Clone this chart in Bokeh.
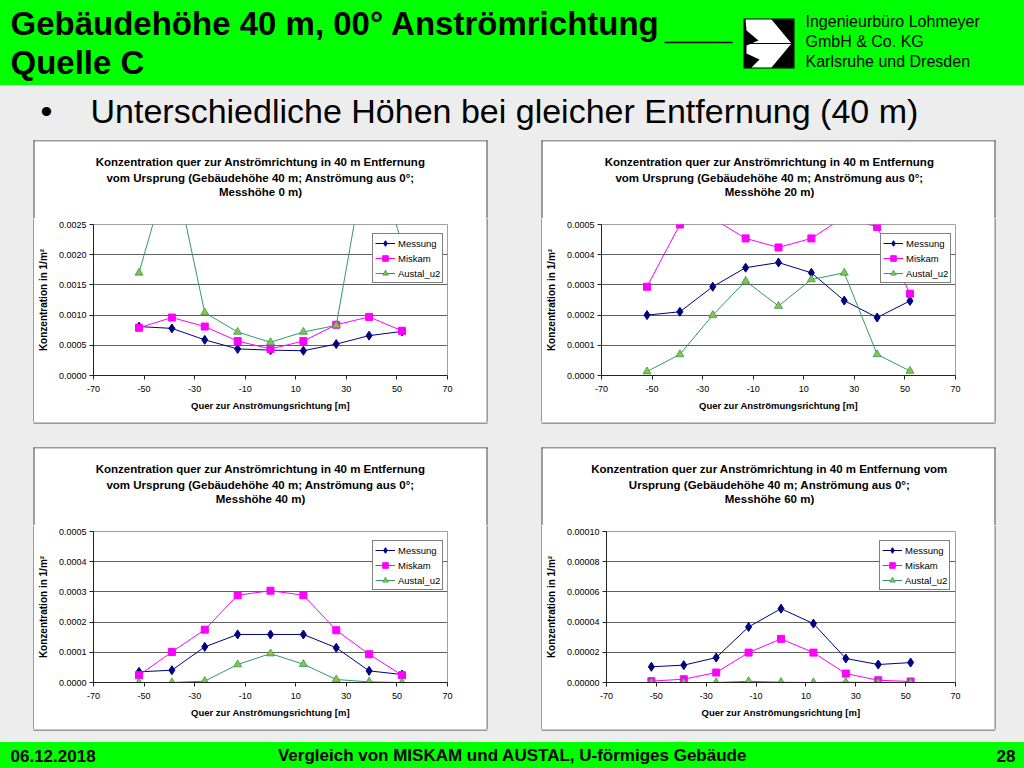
from bokeh.plotting import figure
from bokeh.layouts import row, column
from bokeh.models import Range1d, FixedTicker, NumeralTickFormatter
from bokeh.core.properties import value
from bokeh.embed import file_html
from bokeh.resources import INLINE

FONT = "Liberation Sans"
GREEN = "#00FF00"
BG = "#EDEDED"
FRAME = "#4A4A4A"

# ---------------- data ----------------
x_pos = [-52, -39, -26, -13, 0, 13, 26, 39, 52]
x_ticks = [-70, -50, -30, -10, 10, 30, 50, 70]
series_names = ["Messung", "Miskam", "Austal_u2"]

messung_0 = [0.00081, 0.00078, 0.00059, 0.00044, 0.00042, 0.00041, 0.00052, 0.00066, 0.00073]
miskam_0 = [0.00079, 0.00096, 0.00081, 0.00057, 0.00044, 0.00057, 0.00084, 0.00097, 0.00074]
austal_0 = [0.0017, 0.0036, 0.00104, 0.00072, 0.00055, 0.00072, 0.00083, 0.0039, 0.0022]

messung_20 = [0.000200, 0.000211, 0.000294, 0.000357, 0.000374, 0.000340, 0.000248, 0.000192, 0.000247]
miskam_20 = [0.000294, 0.000500, 0.000520, 0.000454, 0.000424, 0.000454, 0.000525, 0.000492, 0.000271]
austal_20 = [0.000013, 0.000070, 0.000200, 0.000313, 0.000230, 0.000318, 0.000340, 0.000070, 0.000015]

messung_40 = [0.0000352, 0.0000407, 0.000118, 0.000159, 0.000159, 0.000159, 0.000115, 0.0000385, 0.0000264]
miskam_40 = [0.0000242, 0.000101, 0.000175, 0.000289, 0.000304, 0.000289, 0.000173, 0.0000936, 0.0000242]
austal_40 = [0.0, 0.0, 0.0000044, 0.0000595, 0.0000958, 0.0000606, 0.0000099, 0.0000022, 0.0]

messung_60 = [0.0000104, 0.0000115, 0.0000165, 0.0000368, 0.0000489, 0.0000390, 0.0000159, 0.0000119, 0.0000132]
miskam_60 = [0.0000009, 0.0000022, 0.0000066, 0.0000198, 0.0000289, 0.0000198, 0.0000059, 0.0000015, 0.0000007]
austal_60 = [0.0, 0.0, 0.0, 0.0000008, 0.0000002, 0.0, 0.0000002, 0.0, 0.0]

y_ticks_0 = [0.0, 0.0005, 0.0010, 0.0015, 0.0020, 0.0025]
y_ticks_20 = [0.0, 0.0001, 0.0002, 0.0003, 0.0004, 0.0005]
y_ticks_40 = [0.0, 0.0001, 0.0002, 0.0003, 0.0004, 0.0005]
y_ticks_60 = [0.0, 0.00002, 0.00004, 0.00006, 0.00008, 0.00010]

title_head = "Konzentration quer zur Anströmrichtung in 40 m Entfernung"
titles = [
    [title_head, "vom Ursprung (Gebäudehöhe 40 m; Anströmung aus 0°;", "Messhöhe 0 m)"],
    [title_head, "vom Ursprung (Gebäudehöhe 40 m; Anströmung aus 0°;", "Messhöhe 20 m)"],
    [title_head, "vom Ursprung (Gebäudehöhe 40 m; Anströmung aus 0°;", "Messhöhe 40 m)"],
    [title_head + " vom", "Ursprung (Gebäudehöhe 40 m; Anströmung aus 0°;", "Messhöhe 60 m)"],
]
x_label = "Quer zur Anströmungsrichtung [m]"
y_label = "Konzentration in 1/m²"

slide_title = ["Gebäudehöhe 40 m, 00° Anströmrichtung", "Quelle C"]
company = ["Ingenieurbüro Lohmeyer", "GmbH & Co. KG", "Karlsruhe und Dresden"]
bullet_text = "Unterschiedliche Höhen bei gleicher Entfernung (40 m)"
footer_date = "06.12.2018"
footer_text = "Vergleich von MISKAM und AUSTAL, U-förmiges Gebäude"
footer_page = "28"

# chart boxes (left, right) in page pixels
BOX_X = [(33, 487), (541, 995)]
TITLE_CX = [260, 769]


# ---------------- helpers ----------------
def blank(w, h, color):
    f = figure(width=w, height=h, output_backend="svg", toolbar_location=None,
               x_range=Range1d(0, w), y_range=Range1d(h, 0), frame_align=False,
               min_border=0, x_axis_type=None, y_axis_type=None,
               styles={"background-color": color})
    f.outline_line_color = None
    f.background_fill_color = color
    f.border_fill_color = color
    f.grid.visible = False
    return f


def hborders(f, y0, y1):
    f.quad(left=[b[0] for b in BOX_X], right=[b[1] for b in BOX_X],
           top=[y0, y0], bottom=[y1, y1], fill_color=FRAME, line_color=None)


def vborder(f, x0, y0, y1):
    f.quad(left=[x0], right=[x0 + 1], top=[y0], bottom=[y1], fill_color=FRAME, line_color=None)


def title_band(f, top, h, pair):
    """white upper part of the two chart boxes of one row, with their titles"""
    hborders(f, top, top + 1)
    f.quad(left=[b[0] + 1 for b in BOX_X], right=[b[1] - 1 for b in BOX_X],
           top=[top + 1, top + 1], bottom=[h, h], fill_color="white", line_color=None)
    for b in BOX_X:
        vborder(f, b[0], top, h)
        vborder(f, b[1] - 1, top, h)
    for cx, lines in zip(TITLE_CX, pair):
        f.text(x=[cx] * 3, y=[top + 21.5, top + 37, top + 51.5], text=lines,
               text_font=value(FONT), text_font_style="bold", text_font_size="11.5px",
               text_color="black", text_align="center", text_baseline="middle")


def chart(mess, misk, aust, ymax, yticks, fmt, left_border):
    W, H = 452, 204
    top_b, right_b, bot_b = 6, 39, 47
    fw = W - left_border - right_b
    fh = H - top_b - bot_b

    p = figure(width=W, height=H, output_backend="svg", toolbar_location=None,
               x_range=Range1d(-70, 70), y_range=Range1d(0, ymax), frame_align=False,
               min_border_left=left_border, min_border_right=right_b,
               min_border_top=top_b, min_border_bottom=bot_b,
               styles={"background-color": "white"})
    p.background_fill_color = "white"
    p.border_fill_color = "white"
    p.outline_line_color = "#A0A0A0"
    p.xgrid.visible = False
    p.ygrid.grid_line_color = "#606060"
    p.ygrid.grid_line_width = 1

    p.xaxis.ticker = FixedTicker(ticks=x_ticks)
    p.yaxis.ticker = FixedTicker(ticks=yticks)
    p.xaxis.formatter = NumeralTickFormatter(format="0")
    p.yaxis.formatter = NumeralTickFormatter(format=fmt)
    for ax in (p.xaxis[0], p.yaxis[0]):
        ax.axis_line_color = "#222222"
        ax.major_tick_line_color = "#222222"
        ax.major_tick_out = 4
        ax.major_tick_in = 0
        ax.minor_tick_line_color = None
        ax.major_label_text_font = FONT
        ax.major_label_text_font_size = "9px"
        ax.major_label_text_color = "black"
        ax.axis_label_text_font = FONT
        ax.axis_label_text_font_style = "bold"
        ax.axis_label_text_color = "black"
    p.xaxis.axis_label = x_label
    p.xaxis.axis_label_text_font_size = "9.5px"
    p.xaxis.major_label_standoff = 6
    p.xaxis.axis_label_standoff = 5
    p.yaxis.axis_label = y_label
    p.yaxis.axis_label_text_font_size = "10px"
    p.yaxis.major_label_standoff = 3
    p.yaxis.axis_label_standoff = 7

    p.line(x_pos, mess, line_color="#000080", line_width=1, legend_label=series_names[0])
    p.scatter(x_pos, mess, marker="diamond", size=9, fill_color="#000080",
              line_color="#000080", legend_label=series_names[0])
    p.line(x_pos, misk, line_color="#FF00FF", line_width=1, legend_label=series_names[1])
    p.scatter(x_pos, misk, marker="square", size=7, fill_color="#FF00FF",
              line_color="#FF00FF", legend_label=series_names[1])
    p.line(x_pos, aust, line_color="#339966", line_width=1, legend_label=series_names[2])
    p.scatter(x_pos, aust, marker="triangle", size=8, fill_color="#8CC43C",
              line_color="#339966", line_width=0.8, legend_label=series_names[2])

    leg = p.legend[0]
    leg.location = (fw - 6 - 70, fh - 11 - 48)
    leg.margin = 0
    leg.padding = 2
    leg.spacing = 1
    leg.glyph_height = 14
    leg.label_height = 14
    leg.glyph_width = 20
    leg.label_standoff = 3
    leg.label_text_font = FONT
    leg.label_text_font_size = "9.5px"
    leg.label_text_color = "black"
    leg.border_line_color = "black"
    leg.border_line_width = 1
    leg.background_fill_color = "white"
    leg.background_fill_alpha = 1.0
    return p


# ---------------- header ----------------
header = blank(1024, 85, GREEN)
header.text(x=[10, 10], y=[22.5, 62], text=slide_title, text_font=value(FONT),
            text_font_style="bold", text_font_size="33px", text_color="black",
            text_baseline="middle", text_align="left")
header.segment(x0=[664], y0=[42], x1=[732], y1=[42], line_color="black", line_width=1.5)
header.quad(left=[743], right=[794], top=[18], bottom=[68], fill_color="black", line_color=None)
logo_dx = [2, 28, 48, 28, 8, 16, 3, 3, 15, 3]
logo_dy = [1, 1, 25, 49, 49, 41, 35, 27, 22, 12]
header.patch([743 + d for d in logo_dx], [18 + d for d in logo_dy],
             fill_color="white", line_color=None)
header.segment(x0=[746], y0=[43], x1=[791], y1=[43], line_color="black", line_width=1)
header.text(x=[805, 805, 805], y=[21, 41, 61], text=company, text_font=value(FONT),
            text_font_size="16px", text_color="black", text_baseline="middle",
            text_align="left")

# ---------------- band 1: bullet line + titles of row 1 (page y 85..218) ----------------
band1 = blank(1024, 133, BG)
band1.text(x=[40], y=[25], text=["•"], text_font=value(FONT), text_font_size="34px",
           text_color="black", text_baseline="middle", text_align="left")
band1.text(x=[90], y=[25], text=[bullet_text], text_font=value(FONT), text_font_size="34px",
           text_color="black", text_baseline="middle", text_align="left")
title_band(band1, 55, 133, titles[0:2])

# ---------------- charts ----------------
c1 = chart(messung_0, miskam_0, austal_0, 0.0025, y_ticks_0, "0.0000", 58)
c2 = chart(messung_20, miskam_20, austal_20, 0.0005, y_ticks_20, "0.0000", 58)
c3 = chart(messung_40, miskam_40, austal_40, 0.0005, y_ticks_40, "0.0000", 58)
c4 = chart(messung_60, miskam_60, austal_60, 0.0001, y_ticks_60, "0.00000", 64)


def chart_row(ca, cb, h=204):
    lf = blank(34, h, BG)
    vborder(lf, 33, 0, h)
    mf = blank(56, h, BG)
    vborder(mf, 0, 0, h)
    vborder(mf, 55, 0, h)
    rf = blank(30, h, BG)
    vborder(rf, 0, 0, h)
    return row(lf, ca, mf, cb, rf, styles={"background-color": BG})


row1 = chart_row(c1, c2)
row2 = chart_row(c3, c4)

# ---------------- band 2: bottom of row 1, gap, titles of row 2 (page y 422..525) ----------------
band2 = blank(1024, 103, BG)
hborders(band2, 0, 1)
title_band(band2, 25, 103, titles[2:4])

gap2 = blank(1024, 13, BG)
hborders(gap2, 0, 1)

# ---------------- footer ----------------
footer = blank(1024, 26, GREEN)
footer.text(x=[10], y=[13], text=[footer_date], text_font=value(FONT), text_font_style="bold",
            text_font_size="17px", text_color="black", text_baseline="middle",
            text_align="left")
footer.text(x=[512], y=[13], text=[footer_text], text_font=value(FONT), text_font_style="bold",
            text_font_size="17px", text_color="black", text_baseline="middle",
            text_align="center")
footer.text(x=[1015], y=[13], text=[footer_page], text_font=value(FONT), text_font_style="bold",
            text_font_size="17px", text_color="black", text_baseline="middle",
            text_align="right")

layout = column(header, band1, row1, band2, row2, gap2, footer,
                styles={"background-color": BG})

open("out.html", "w").write(file_html(layout, INLINE))
